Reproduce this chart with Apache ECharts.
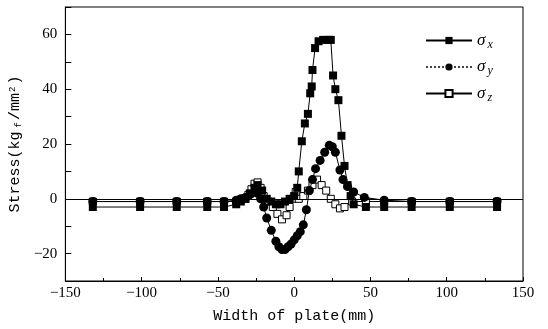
<!DOCTYPE html>
<html>
<head>
<meta charset="utf-8">
<script src="https://cdn.jsdelivr.net/npm/echarts@6/dist/echarts.min.js"></script>
<style>
  html, body { margin: 0; padding: 0; background: #fff; }
  #stressChart { width: 548px; height: 329px; }
</style>
</head>
<body>
<div id="stressChart"></div>
<script>
// sigma x (filled squares)
var sxPos = [-132, -101, -77, -57, -46, -38, -35, -32, -29, -26, -24, -21, -18, -15, -12, -9, -6, -3, 0, 2, 3, 5, 7, 9, 10.5, 11.5, 12, 13.7, 16, 19, 22.5, 24, 25.5, 27, 29, 31, 33, 35, 37, 39, 47, 59, 77, 102, 133];
var sxVal = [-3, -3, -3, -3, -3, -2, -1, 0, 2, 4, 5, 3, 0, -1, -2, -2, -1, 0, 1, 4, 10, 21, 27.5, 31, 38.5, 41, 47, 55, 57.5, 58, 58, 58, 45, 40, 36, 23, 12, 5, 1, -2, -3, -3, -3, -3, -3];
// sigma y (filled circles)
var syPos = [-132, -101, -77, -57, -46, -38, -35, -32, -29, -26, -24, -22, -20, -18, -15, -12, -10, -8, -6, -4, -2, 0, 2, 4, 6, 8, 10, 12, 14, 17, 20, 23, 25, 27, 30, 32, 35, 39, 46, 59, 77, 102, 133];
var syVal = [-1, -1, -1, -1, -1, -0.5, 0, 0.5, 1.5, 2.5, 2, 0, -3, -7, -11.5, -15.5, -17.5, -18.5, -18.5, -17.5, -16.5, -15, -13.5, -12, -9.5, -4, 3, 7, 11, 14, 17, 19.5, 19, 17, 10.5, 7, 4.5, 2.5, 0.5, -0.5, -1, -1, -1];
// sigma z (open squares)
var szPos = [-132, -101, -77, -57, -46, -38, -35, -32, -30, -28, -26, -24, -22, -20, -17, -14, -11, -8, -5, -3, -1, 1, 3, 6, 9, 12, 15, 18, 21, 24, 27, 30, 33, 38, 47, 59, 77, 102, 133];
var szVal = [-1, -1, -1, -1, -1, -1, -0.5, 0, 1.5, 3.5, 5.5, 6, 4, 1, -1, -3, -5.5, -7.5, -6, -3, 0, 2.5, 0, 1, 3, 5, 7, 5, 3, 0, -2, -3.5, -3, -1, -1, -1, -1, -1, -1];

var legendNames = ["σx", "σy", "σz"];

function pairs(xs, ys) {
  var arr = [];
  xs.forEach(function (x, i) {
    arr.push([x, ys[i]]);
  });
  return arr;
}

function minus(v) {
  return String(v).replace("-", "\u2212");
}

var tickFont = "Liberation Serif";
var monoFont = "Liberation Mono";

var myChart = echarts.init(document.getElementById("stressChart"));
var option = {
  animation: false,
  backgroundColor: "#fff",
  grid: {
    left: 58,
    right: 25,
    top: 7,
    bottom: 47,
    show: true,
    borderColor: "#000",
    borderWidth: 1
  },
  legend: {
    orient: "vertical",
    left: 420,
    top: 27,
    itemWidth: 46,
    itemHeight: 9,
    itemGap: 8,
    data: [
      { name: legendNames[0] },
      { name: legendNames[1], lineStyle: { type: "dotted", color: "#444" } },
      { name: legendNames[2] }
    ],
    formatter: function (name) {
      return "{s|σ}{b|" + name.slice(1) + "}";
    },
    textStyle: {
      rich: {
        s: { fontFamily: tickFont, fontStyle: "italic", fontSize: 17, color: "#000", lineHeight: 20 },
        b: { fontFamily: tickFont, fontStyle: "italic", fontSize: 12, color: "#000", verticalAlign: "bottom", lineHeight: 20, padding: [6, 0, 0, 2] }
      }
    }
  },
  xAxis: {
    type: "value",
    min: -150,
    max: 150,
    interval: 50,
    name: "Width of plate(mm)",
    nameLocation: "middle",
    nameGap: 28,
    nameTextStyle: { fontFamily: monoFont, fontSize: 15, color: "#000" },
    axisLine: { onZero: false, lineStyle: { color: "#000", width: 1 } },
    axisTick: { inside: true, length: 4, lineStyle: { color: "#000" } },
    minorTick: { show: true, splitNumber: 2, length: 3, lineStyle: { color: "#000" } },
    splitLine: { show: false },
    axisLabel: {
      fontFamily: tickFont,
      fontSize: 15,
      color: "#000",
      margin: 5,
      formatter: minus
    }
  },
  yAxis: {
    type: "value",
    min: -30,
    max: 70,
    interval: 10,
    name: "Stress(kg{f|f}/mm{p|2})",
    nameLocation: "middle",
    nameGap: 40,
    nameTextStyle: {
      fontFamily: monoFont,
      fontSize: 15,
      color: "#000",
      rich: {
        f: { fontFamily: monoFont, fontSize: 9, color: "#000", verticalAlign: "bottom", padding: [6, 2, 0, 4] },
        p: { fontFamily: monoFont, fontSize: 9, color: "#000", verticalAlign: "top", padding: [0, 2, 6, 1] }
      }
    },
    axisLine: { onZero: false, lineStyle: { color: "#000", width: 1 } },
    axisTick: { inside: true, length: 6, lineStyle: { color: "#000" } },
    splitLine: { show: false },
    axisLabel: {
      fontFamily: tickFont,
      fontSize: 15,
      color: "#000",
      margin: 8,
      formatter: function (v) {
        if (v % 20 !== 0 || v > 60) return "";
        return minus(v);
      }
    }
  },
  series: [
    {
      name: legendNames[0],
      type: "line",
      z: 3,
      data: pairs(sxPos, sxVal),
      symbol: "rect",
      symbolSize: 8,
      itemStyle: { color: "#000" },
      lineStyle: { color: "#000", width: 1 },
      markLine: {
        silent: true,
        symbol: "none",
        label: { show: false },
        lineStyle: { color: "#000", width: 1, type: "solid" },
        data: [{ yAxis: 0 }]
      }
    },
    {
      name: legendNames[1],
      type: "line",
      z: 4,
      data: pairs(syPos, syVal),
      symbol: "circle",
      symbolSize: 9,
      itemStyle: { color: "#000" },
      lineStyle: { color: "#000", width: 1 }
    },
    {
      name: legendNames[2],
      type: "line",
      z: 2,
      data: pairs(szPos, szVal),
      symbol: "rect",
      symbolSize: 7,
      itemStyle: { color: "#fff", borderColor: "#000", borderWidth: 1 },
      lineStyle: { color: "#000", width: 1 }
    }
  ]
};
myChart.setOption(option, true);
</script>
</body>
</html>
